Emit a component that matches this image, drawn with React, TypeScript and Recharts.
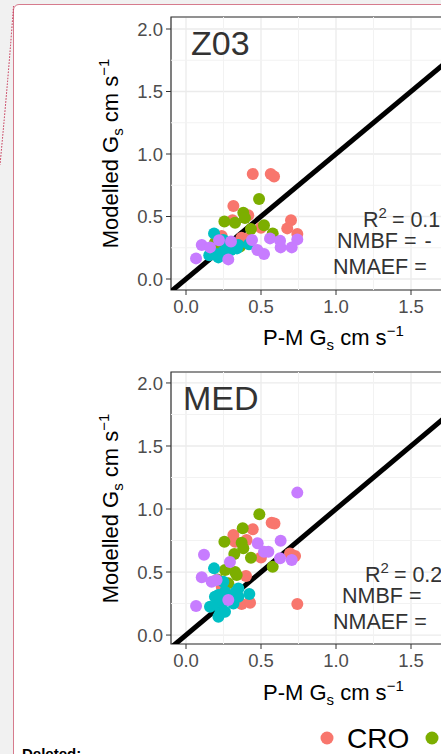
import React from 'react';
import {
    ScatterChart, Scatter, XAxis, YAxis, CartesianGrid, ReferenceLine, ReferenceArea
} from 'recharts';

const FONT = '"Liberation Sans", Arial, sans-serif';

const groups = ['CRO', 'DBF', 'ENF', 'GRA'];
const colors = ['#F8766D', '#7CAE00', '#00BFC4', '#C77CFF'];
const xTicks = [0, 0.5, 1, 1.5];
const yTicks = [0, 0.5, 1, 1.5, 2];
const minorTicks = [0.25, 0.75, 1.25, 1.75];

// Z03 panel, [P-M Gs, modelled Gs]
const z03Cro = [[0.445, 0.84], [0.565, 0.84], [0.587, 0.82], [0.316, 0.584], [0.31, 0.47], [0.415, 0.51], [0.5, 0.41], [0.7, 0.47], [0.675, 0.405], [0.742, 0.36], [0.238, 0.344], [0.37, 0.33], [0.415, 0.325]];
const z03Dbf = [[0.487, 0.64], [0.382, 0.53], [0.256, 0.46], [0.327, 0.45], [0.393, 0.488], [0.433, 0.4], [0.52, 0.43], [0.578, 0.365], [0.193, 0.29], [0.216, 0.245], [0.31, 0.27], [0.36, 0.26]];
const z03Enf = [[0.187, 0.365], [0.249, 0.312], [0.28, 0.285], [0.316, 0.272], [0.349, 0.272], [0.42, 0.278], [0.27, 0.245], [0.3, 0.232], [0.155, 0.19], [0.216, 0.173], [0.25, 0.22], [0.34, 0.245], [0.2, 0.2]];
const z03Gra = [[0.105, 0.272], [0.16, 0.253], [0.067, 0.165], [0.282, 0.157], [0.44, 0.312], [0.476, 0.232], [0.52, 0.2], [0.56, 0.325], [0.627, 0.307], [0.631, 0.253], [0.705, 0.253], [0.742, 0.317], [0.22, 0.31], [0.3, 0.3]];

// MED panel
const medCro = [[0.571, 0.891], [0.59, 0.885], [0.445, 0.839], [0.316, 0.794], [0.327, 0.74], [0.404, 0.754], [0.5, 0.616], [0.693, 0.648], [0.727, 0.627], [0.71, 0.63], [0.4, 0.468], [0.238, 0.383], [0.371, 0.246], [0.427, 0.256], [0.742, 0.246]];
const medDbf = [[0.489, 0.958], [0.378, 0.847], [0.256, 0.74], [0.371, 0.733], [0.382, 0.688], [0.322, 0.643], [0.433, 0.614], [0.26, 0.516], [0.327, 0.5], [0.338, 0.476], [0.578, 0.542], [0.282, 0.41], [0.21, 0.44]];
const medEnf = [[0.187, 0.529], [0.249, 0.423], [0.26, 0.344], [0.349, 0.37], [0.422, 0.325], [0.193, 0.304], [0.216, 0.317], [0.316, 0.317], [0.16, 0.225], [0.204, 0.238], [0.249, 0.264], [0.316, 0.25], [0.227, 0.172], [0.26, 0.185], [0.216, 0.145], [0.349, 0.304], [0.29, 0.28], [0.33, 0.34]];
const medGra = [[0.742, 1.13], [0.478, 0.728], [0.631, 0.748], [0.549, 0.661], [0.12, 0.637], [0.293, 0.58], [0.627, 0.61], [0.705, 0.595], [0.105, 0.458], [0.171, 0.423], [0.204, 0.437], [0.282, 0.278], [0.067, 0.23], [0.52, 0.66]];

const toPts = (arr: number[][]) => arr.map(([x, y]) => ({ x, y }));

const dot = (color: string) => (props: any) => (
    <circle cx={props.cx} cy={props.cy} r={6} fill={color} />
);

function Panel({ top, title, titleX, series, yDomain, height, stats, statX }: any) {
    return (
        <div style={{ position: 'absolute', left: 0, top, width: 471, height: 360 }}>
            <ScatterChart width={471} height={height} margin={{ top: 17, right: 0, bottom: 0, left: 0 }}>
                <CartesianGrid stroke="#ebebeb" strokeWidth={1.3} />
                {minorTicks.map(v => (
                    <ReferenceLine key={'mx' + v} x={v} stroke="#f2f2f2" strokeWidth={1} ifOverflow="hidden" />
                ))}
                {minorTicks.map(v => (
                    <ReferenceLine key={'my' + v} y={v} stroke="#f2f2f2" strokeWidth={1} ifOverflow="hidden" />
                ))}
                <XAxis
                    type="number" dataKey="x" domain={[-0.1, 1.9]} ticks={xTicks} allowDataOverflow
                    tickFormatter={(v: number) => v.toFixed(1)} height={30}
                    axisLine={false} tickLine={{ stroke: '#333' }} tickSize={5} tickMargin={5}
                    tick={{ fill: '#4d4d4d', fontSize: 18.5, fontFamily: FONT }}
                />
                <YAxis
                    type="number" dataKey="y" domain={yDomain} ticks={yTicks} allowDataOverflow
                    tickFormatter={(v: number) => v.toFixed(1)} width={171}
                    axisLine={false} tickLine={{ stroke: '#333' }} tickSize={5} tickMargin={3}
                    tick={{ fill: '#4d4d4d', fontSize: 18.5, fontFamily: FONT }}
                />
                {series.map((s: number[][], i: number) => (
                    <Scatter key={groups[i]} name={groups[i]} data={toPts(s)} shape={dot(colors[i])} isAnimationActive={false} />
                ))}
                <ReferenceLine
                    segment={[{ x: -0.3, y: -0.3 }, { x: 2.3, y: 2.3 }]}
                    stroke="#000" strokeWidth={5} ifOverflow="hidden"
                />
                <ReferenceArea x1={-0.1} x2={1.9} y1={yDomain[0]} y2={yDomain[1]} fill="none" stroke="#333" strokeWidth={1.2} ifOverflow="visible" />
            </ScatterChart>
            <svg width={441} height={360} style={{ position: 'absolute', left: 0, top: 0, pointerEvents: 'none' }} fontFamily={FONT}>
                <text x={titleX} y={55} fontSize={34} fill="#333">{title}</text>
                <text x={statX[0]} y={227} fontSize={21.5} fill="#333">
                    R<tspan dy={-9} fontSize={15}>2</tspan><tspan dy={9} dx={5}>= {stats[0]}</tspan>
                </text>
                <text x={statX[1]} y={248} fontSize={21.5} fill="#333">NMBF =<tspan dx={8}>{stats[1]}</tspan></text>
                <text x={statX[2]} y={274} fontSize={21.5} fill="#333">NMAEF =</text>
                <text x={263} y={345} fontSize={22} fill="#000">
                    P-M G<tspan dy={5} fontSize={15}>s</tspan><tspan dy={-5}> cm s</tspan><tspan dy={-9} fontSize={15}>−1</tspan>
                </text>
                <text transform="translate(118,153.5) rotate(-90)" textAnchor="middle" fontSize={22} fill="#000">
                    Modelled G<tspan dy={5} fontSize={15}>s</tspan><tspan dy={-5}> cm s</tspan><tspan dy={-9} fontSize={15}>−1</tspan>
                </text>
            </svg>
        </div>
    );
}

export default function App() {
    return (
        <div style={{ position: 'fixed', left: 0, top: 0, width: 441, height: 754, overflow: 'hidden', background: '#f1f1f1', fontFamily: FONT }}>
            <div style={{ position: 'absolute', left: 13, top: 4, width: 520, height: 820, background: '#fff', border: '1.5px solid #d67b8d', borderRadius: 6, boxSizing: 'border-box' }} />
            <svg width={20} height={170} style={{ position: 'absolute', left: 0, top: 0 }}>
                <path d="M13.5,6 Q9,70 0,165" fill="none" stroke="#c4284a" strokeWidth={1} strokeDasharray="1.5 1.5" />
            </svg>
            <Panel top={0} title="Z03" titleX={191} height={320} yDomain={[-0.088, 2.096]}
                series={[z03Cro, z03Dbf, z03Enf, z03Gra]} stats={['0.1', '-']} statX={[363, 337, 333]} />
            <Panel top={355} title="MED" titleX={183} height={319} yDomain={[-0.071, 2.087]}
                series={[medCro, medDbf, medEnf, medGra]} stats={['0.2', '']} statX={[365, 342, 333]} />
            <svg width={441} height={754} style={{ position: 'absolute', left: 0, top: 0, pointerEvents: 'none' }} fontFamily={FONT}>
                {groups.map((g, i) => {
                    const cx = 327 + i * 105;
                    if (cx > 445) return null;
                    return (
                        <g key={g}>
                            <circle cx={cx} cy={738} r={6.5} fill={colors[i]} />
                            {i === 0 && <text x={cx + 20} y={748} fontSize={28} fill="#000">{g}</text>}
                        </g>
                    );
                })}
                <text x={22} y={759} fontSize={15} fontWeight="bold" fill="#000">Deleted:</text>
            </svg>
        </div>
    );
}
